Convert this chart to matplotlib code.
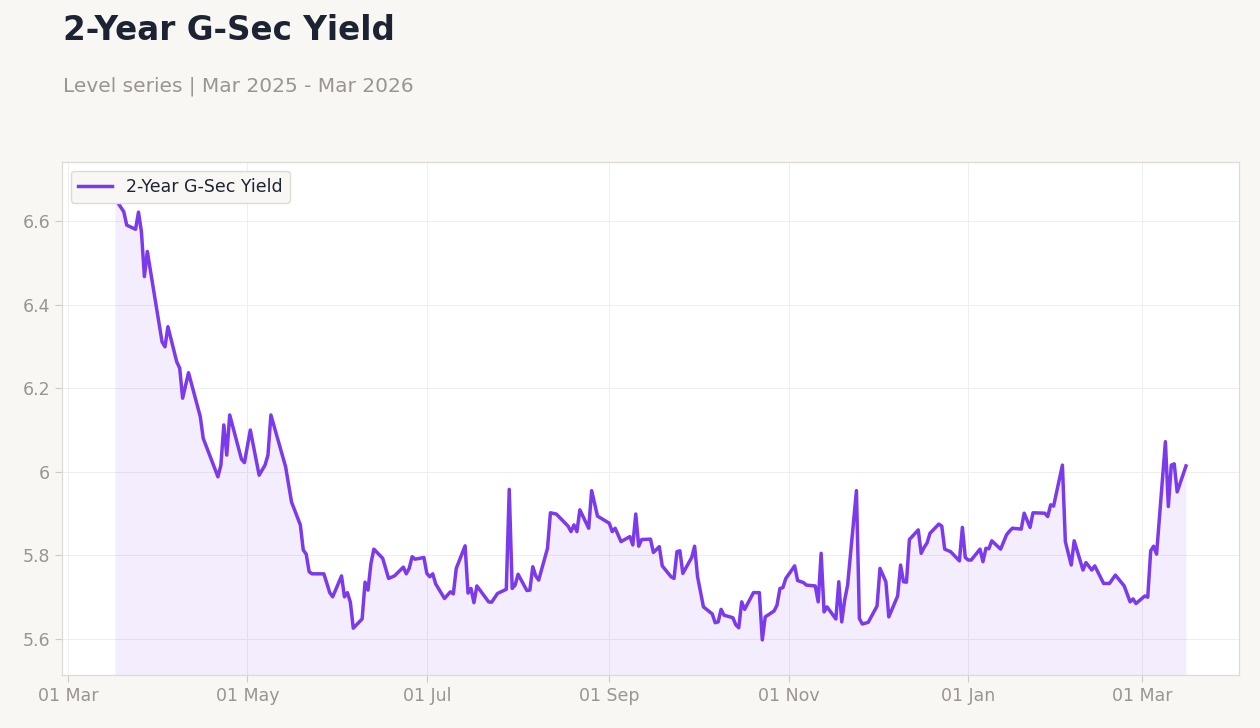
import matplotlib.pyplot as plt
import matplotlib.dates as mdates
import matplotlib.ticker as mticker
import pandas as pd

dates = [
    "2025-03-17", "2025-03-20", "2025-03-21", "2025-03-24", "2025-03-25", "2025-03-26",
    "2025-03-27", "2025-03-28", "2025-04-02", "2025-04-03", "2025-04-04", "2025-04-07",
    "2025-04-08", "2025-04-09", "2025-04-11", "2025-04-15", "2025-04-16", "2025-04-21",
    "2025-04-22", "2025-04-23", "2025-04-24", "2025-04-25", "2025-04-29", "2025-04-30",
    "2025-05-02", "2025-05-05", "2025-05-07", "2025-05-08", "2025-05-09", "2025-05-14",
    "2025-05-16", "2025-05-19", "2025-05-20", "2025-05-21", "2025-05-22", "2025-05-23",
    "2025-05-27", "2025-05-29", "2025-05-30", "2025-06-02", "2025-06-03", "2025-06-04",
    "2025-06-05", "2025-06-06", "2025-06-09", "2025-06-10", "2025-06-11", "2025-06-12",
    "2025-06-13", "2025-06-16", "2025-06-18", "2025-06-20", "2025-06-23", "2025-06-24",
    "2025-06-25", "2025-06-26", "2025-06-27", "2025-06-30", "2025-07-01", "2025-07-02",
    "2025-07-03", "2025-07-04", "2025-07-07", "2025-07-09", "2025-07-10", "2025-07-11",
    "2025-07-14", "2025-07-15", "2025-07-16", "2025-07-17", "2025-07-18", "2025-07-22",
    "2025-07-23", "2025-07-25", "2025-07-28", "2025-07-29", "2025-07-30", "2025-07-31",
    "2025-08-01", "2025-08-04", "2025-08-05", "2025-08-06", "2025-08-07", "2025-08-08",
    "2025-08-11", "2025-08-12", "2025-08-14", "2025-08-18", "2025-08-19", "2025-08-20",
    "2025-08-21", "2025-08-22", "2025-08-25", "2025-08-26", "2025-08-28", "2025-09-01",
    "2025-09-02", "2025-09-03", "2025-09-05", "2025-09-08", "2025-09-09", "2025-09-10",
    "2025-09-11", "2025-09-12", "2025-09-15", "2025-09-16", "2025-09-18", "2025-09-19",
    "2025-09-22", "2025-09-23", "2025-09-24", "2025-09-25", "2025-09-26", "2025-09-29",
    "2025-09-30", "2025-10-01", "2025-10-03", "2025-10-06", "2025-10-07", "2025-10-08",
    "2025-10-09", "2025-10-10", "2025-10-13", "2025-10-14", "2025-10-15", "2025-10-16",
    "2025-10-17", "2025-10-20", "2025-10-22", "2025-10-23", "2025-10-24", "2025-10-27",
    "2025-10-28", "2025-10-29", "2025-10-30", "2025-10-31", "2025-11-03", "2025-11-04",
    "2025-11-06", "2025-11-07", "2025-11-10", "2025-11-11", "2025-11-12", "2025-11-13",
    "2025-11-14", "2025-11-17", "2025-11-18", "2025-11-19", "2025-11-20", "2025-11-21",
    "2025-11-24", "2025-11-25", "2025-11-26", "2025-11-28", "2025-12-01", "2025-12-02",
    "2025-12-04", "2025-12-05", "2025-12-08", "2025-12-09", "2025-12-10", "2025-12-11",
    "2025-12-12", "2025-12-15", "2025-12-16", "2025-12-17", "2025-12-18", "2025-12-19",
    "2025-12-22", "2025-12-23", "2025-12-24", "2025-12-26", "2025-12-29", "2025-12-30",
    "2025-12-31", "2026-01-01", "2026-01-02", "2026-01-05", "2026-01-06", "2026-01-07",
    "2026-01-08", "2026-01-09", "2026-01-12", "2026-01-14", "2026-01-15", "2026-01-16",
    "2026-01-19", "2026-01-20", "2026-01-22", "2026-01-23", "2026-01-27", "2026-01-28",
    "2026-01-29", "2026-01-30", "2026-02-02", "2026-02-03", "2026-02-05", "2026-02-06",
    "2026-02-09", "2026-02-10", "2026-02-12", "2026-02-13", "2026-02-16", "2026-02-18",
    "2026-02-20", "2026-02-23", "2026-02-25", "2026-02-26", "2026-02-27", "2026-03-02",
    "2026-03-03", "2026-03-04", "2026-03-05", "2026-03-06", "2026-03-09", "2026-03-10",
    "2026-03-11", "2026-03-12", "2026-03-13", "2026-03-16",
]

yields = [
    6.654, 6.622, 6.590, 6.580, 6.621, 6.574,
    6.467, 6.527, 6.311, 6.299, 6.347, 6.263,
    6.248, 6.176, 6.237, 6.132, 6.080, 5.988,
    6.016, 6.112, 6.040, 6.136, 6.030, 6.022,
    6.100, 5.992, 6.016, 6.040, 6.136, 6.012,
    5.928, 5.873, 5.813, 5.803, 5.761, 5.756,
    5.756, 5.711, 5.701, 5.751, 5.701, 5.711,
    5.688, 5.626, 5.648, 5.736, 5.717, 5.781,
    5.815, 5.793, 5.745, 5.751, 5.772, 5.756,
    5.769, 5.797, 5.791, 5.795, 5.757, 5.749,
    5.756, 5.732, 5.697, 5.713, 5.708, 5.769,
    5.823, 5.710, 5.721, 5.687, 5.727, 5.689,
    5.688, 5.709, 5.719, 5.958, 5.721, 5.729,
    5.755, 5.716, 5.717, 5.773, 5.751, 5.741,
    5.817, 5.902, 5.899, 5.870, 5.857, 5.873,
    5.857, 5.909, 5.865, 5.955, 5.894, 5.877,
    5.857, 5.865, 5.833, 5.845, 5.825, 5.899,
    5.822, 5.838, 5.839, 5.807, 5.821, 5.775,
    5.749, 5.745, 5.809, 5.811, 5.757, 5.795,
    5.822, 5.749, 5.677, 5.660, 5.639, 5.641,
    5.671, 5.657, 5.651, 5.634, 5.627, 5.689,
    5.671, 5.711, 5.711, 5.598, 5.653, 5.667,
    5.681, 5.721, 5.723, 5.745, 5.775, 5.740,
    5.735, 5.729, 5.727, 5.689, 5.805, 5.665,
    5.677, 5.648, 5.737, 5.641, 5.693, 5.729,
    5.955, 5.649, 5.636, 5.640, 5.679, 5.769,
    5.737, 5.653, 5.703, 5.777, 5.737, 5.736,
    5.838, 5.861, 5.805, 5.819, 5.830, 5.853,
    5.875, 5.870, 5.815, 5.809, 5.787, 5.867,
    5.795, 5.789, 5.789, 5.815, 5.785, 5.817,
    5.816, 5.835, 5.815, 5.849, 5.858, 5.865,
    5.863, 5.901, 5.867, 5.902, 5.901, 5.893,
    5.921, 5.918, 6.016, 5.833, 5.777, 5.835,
    5.765, 5.783, 5.765, 5.775, 5.733, 5.733,
    5.753, 5.727, 5.689, 5.696, 5.685, 5.703,
    5.700, 5.811, 5.822, 5.803, 6.072, 5.917,
    6.016, 6.019, 5.952, 6.014,
]

series_name = "2-Year G-Sec Yield"
x = pd.to_datetime(dates)

bg = "#f8f7f4"
purple = "#7c3aed"
gray_txt = "#999590"

fig = plt.figure(figsize=(12.6, 7.28), dpi=100, facecolor=bg)
ax = fig.add_axes([0.0492, 0.0728, 0.9341, 0.7047])
ax.set_facecolor("white")

y_bottom = 5.514
ax.plot(x, yields, color=purple, linewidth=2.5, label=series_name, zorder=3)
ax.fill_between(x, yields, y_bottom, color=purple, alpha=0.09, linewidth=0, zorder=2)

ax.set_ylim(y_bottom, 6.741)
ax.set_xlim(pd.Timestamp("2025-02-27"), pd.Timestamp("2026-04-03"))

ax.xaxis.set_major_locator(mdates.MonthLocator(bymonth=[1, 3, 5, 7, 9, 11]))
ax.xaxis.set_major_formatter(mdates.DateFormatter("%d %b"))
ax.yaxis.set_major_locator(mticker.MultipleLocator(0.2))
ax.yaxis.set_major_formatter(mticker.FuncFormatter(lambda v, p: f"{v:g}"))

ax.grid(True, color="#f0eeec", linewidth=0.7)
ax.set_axisbelow(True)
for s in ax.spines.values():
    s.set_color("#dedad5")
    s.set_linewidth(0.9)
ax.tick_params(colors="#cfcac4", labelcolor=gray_txt, labelsize=12.5, length=5, width=0.8)

leg = ax.legend(loc="upper left", fontsize=12.5, frameon=True, facecolor=bg,
                edgecolor="#dedad5", framealpha=1, borderaxespad=0.5)
for t in leg.get_texts():
    t.set_color("#1e2433")

fig.text(0.05, 0.958, "2-Year G-Sec Yield", fontsize=23.5, fontweight="bold",
         color="#1c2434", va="center", ha="left")
fig.text(0.05, 0.882, "Level series | Mar 2025 - Mar 2026", fontsize=14.5,
         color=gray_txt, va="center", ha="left")

fig.savefig("out.png", dpi=100, facecolor=bg)
